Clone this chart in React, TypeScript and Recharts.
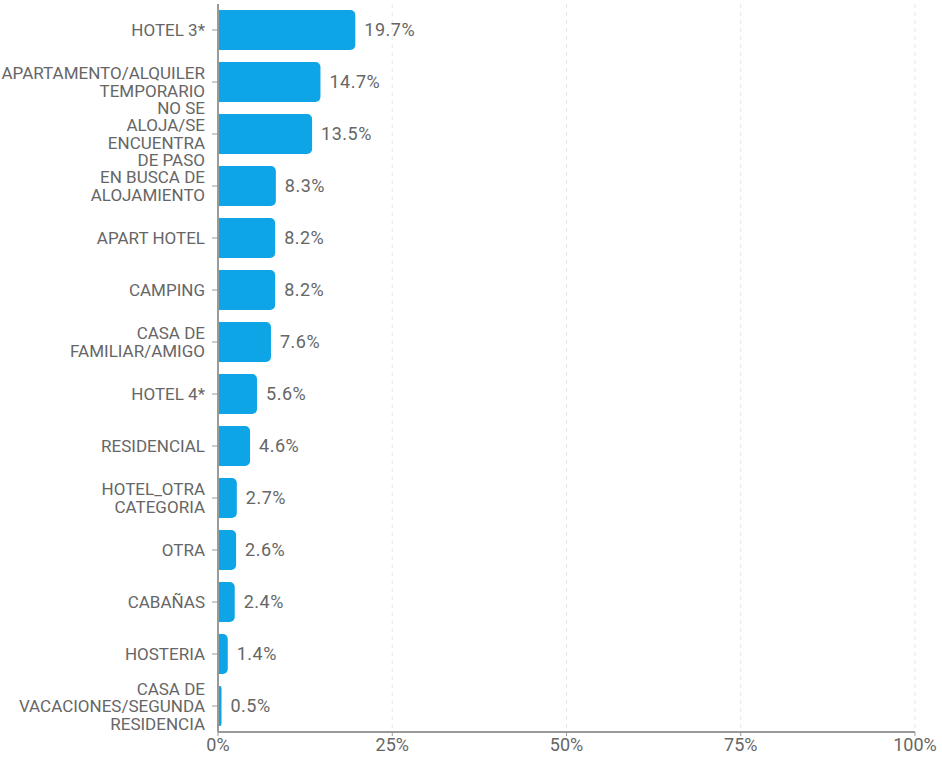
import React from "react";
import { BarChart, Bar, XAxis, YAxis, CartesianGrid, LabelList } from "recharts";

const categories = [
  "HOTEL 3*",
  "APARTAMENTO/ALQUILER TEMPORARIO",
  "NO SE ALOJA/SE ENCUENTRA DE PASO",
  "EN BUSCA DE ALOJAMIENTO",
  "APART HOTEL",
  "CAMPING",
  "CASA DE FAMILIAR/AMIGO",
  "HOTEL 4*",
  "RESIDENCIAL",
  "HOTEL_OTRA CATEGORIA",
  "OTRA",
  "CABAÑAS",
  "HOSTERIA",
  "CASA DE VACACIONES/SEGUNDA RESIDENCIA",
];
const labelLines: string[][] = [
  ["HOTEL 3*"],
  ["APARTAMENTO/ALQUILER", "TEMPORARIO"],
  ["NO SE", "ALOJA/SE", "ENCUENTRA", "DE PASO"],
  ["EN BUSCA DE", "ALOJAMIENTO"],
  ["APART HOTEL"],
  ["CAMPING"],
  ["CASA DE", "FAMILIAR/AMIGO"],
  ["HOTEL 4*"],
  ["RESIDENCIAL"],
  ["HOTEL_OTRA", "CATEGORIA"],
  ["OTRA"],
  ["CABAÑAS"],
  ["HOSTERIA"],
  ["CASA DE", "VACACIONES/SEGUNDA", "RESIDENCIA"],
];
const values = [19.7, 14.7, 13.5, 8.3, 8.2, 8.2, 7.6, 5.6, 4.6, 2.7, 2.6, 2.4, 1.4, 0.5];
const xTicks = [0, 25, 50, 75, 100];

const data = categories.map((c, i) => ({ name: c, value: values[i] }));

const FONT = "Roboto, 'Noto Sans', sans-serif";

const YTick = (props: any) => {
  const { x, y, payload } = props;
  const idx = categories.indexOf(payload.value);
  const lines = idx >= 0 ? labelLines[idx] : [payload.value];
  const lh = 17.5;
  const start = -((lines.length - 1) * lh) / 2;
  const tx = x - 5;
  return (
    <text x={tx} y={y} textAnchor="end" fill="#666" fontSize={17} fontFamily={FONT}>
      {lines.map((l, i) => (
        <tspan key={i} x={tx} y={y + start + i * lh} dy="0.36em">
          {l}
        </tspan>
      ))}
    </text>
  );
};

export default function App() {
  return (
    <div style={{ position: "absolute", left: 0, top: 0, background: "#fff" }}>
      <BarChart
        width={942}
        height={765}
        data={data}
        layout="vertical"
        margin={{ top: 4, right: 27, bottom: 0, left: 0 }}
        barCategoryGap={6}
      >
        <CartesianGrid horizontal={false} stroke="#e6e6e6" strokeDasharray="4 4" />
        <XAxis
          type="number"
          domain={[0, 100]}
          ticks={xTicks}
          tickFormatter={(v: number) => `${v}%`}
          axisLine={{ stroke: "#999", strokeWidth: 2 }}
          tickLine={{ stroke: "#999" }}
          tickSize={4}
          tick={{ fill: "#666", fontSize: 18, fontFamily: FONT }}
          height={33}
        />
        <YAxis
          type="category"
          dataKey="name"
          width={218}
          axisLine={{ stroke: "#999", strokeWidth: 2 }}
          tickLine={{ stroke: "#999" }}
          tickSize={6}
          tick={<YTick />}
          interval={0}
        />
        <Bar dataKey="value" fill="#0EA5E6" radius={[0, 5, 5, 0]} isAnimationActive={false}>
          <LabelList
            dataKey="value"
            position="right"
            offset={9}
            formatter={(v: number) => `${v.toFixed(1)}%`}
            fill="#666"
            fontSize={18}
            letterSpacing={0.5}
            fontFamily={FONT}
          />
        </Bar>
      </BarChart>
    </div>
  );
}
